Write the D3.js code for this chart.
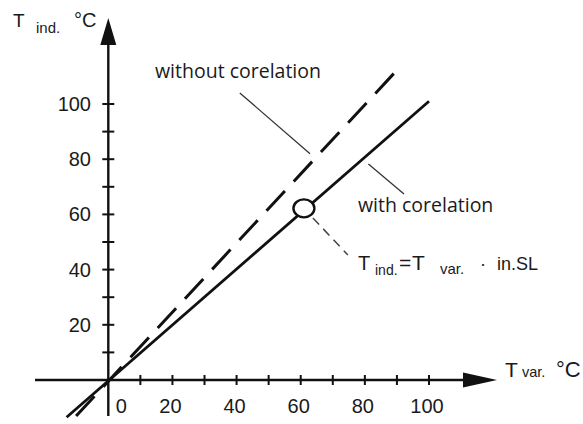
<!DOCTYPE html>
<html>
<head>
<meta charset="utf-8">
<script src="https://cdn.jsdelivr.net/npm/d3@7"></script>
<style>
  body { margin: 0; background: #fff; }
  svg { display: block; }
  .num { font-family: "Liberation Sans", Arial, sans-serif; fill: #1a1a1a; }
  .note { font-family: "Open Sans", "Noto Sans", sans-serif; fill: #1a1a1a; }
</style>
</head>
<body>
<div id="chart"></div>
<script>
'use strict';

// ticks and labels
var xTicks = [10, 20, 30, 40, 50, 60, 70, 80, 90, 100]
  , yTicks = [10, 20, 30, 40, 50, 60, 70, 80, 90, 100]
  , xTickLabels = [0, 20, 40, 60, 80, 100]
  , yTickLabels = [20, 40, 60, 80, 100];

// the two characteristic lines [T var., T ind.]
var withCorrelation = [[-13, -13.5], [100, 101]]
  , withoutCorrelation = [[89, 111], [-12, -15.5]];

// marked point on the correlated line
var markerPoint = [61, 62.2];

// annotation leader lines, in data units
var leaderWithout = [[41, 104], [62.9, 82]]
  , leaderWith = [[81.1, 78.3], [92.2, 67.4]]
  , leaderMarker = [[63.8, 58.7], [74.7, 45.3]];

var w = 583
  , h = 424;

var svg = d3.select('#chart')
  .append('svg')
    .attr('width', w)
    .attr('height', h);

var x = d3.scaleLinear().domain([0, 100]).range([108.3, 429])
  , y = d3.scaleLinear().domain([0, 100]).range([380, 104]);

var line = d3.line()
  .x(function (d) { return x(d[0]); })
  .y(function (d) { return y(d[1]); });

var ox = x(0)
  , oy = y(0);

// axes lines
var axes = svg.append('g').attr('stroke', '#111').attr('stroke-width', 2.4);
axes.append('line')
  .attr('x1', 35).attr('x2', 466)
  .attr('y1', oy).attr('y2', oy);
axes.append('line')
  .attr('x1', ox).attr('x2', ox)
  .attr('y1', 416).attr('y2', 42);

// arrow heads
svg.append('path')
  .attr('d', 'M' + (ox - 8) + ',45 L' + ox + ',18 L' + (ox + 8) + ',45 Z')
  .attr('fill', '#111');
svg.append('path')
  .attr('d', 'M463,' + (oy - 7.5) + ' L497,' + oy + ' L463,' + (oy + 7.5) + ' Z')
  .attr('fill', '#111');

// tick marks
svg.append('g').selectAll('line.xt')
  .data(xTicks)
  .enter().append('line')
    .attr('x1', function (d) { return x(d); })
    .attr('x2', function (d) { return x(d); })
    .attr('y1', oy - 5).attr('y2', oy + 5)
    .attr('stroke', '#111').attr('stroke-width', 2);
svg.append('g').selectAll('line.yt')
  .data(yTicks)
  .enter().append('line')
    .attr('y1', function (d) { return y(d); })
    .attr('y2', function (d) { return y(d); })
    .attr('x1', ox - 6).attr('x2', ox + 6)
    .attr('stroke', '#111').attr('stroke-width', 2);

// tick labels
svg.append('g').selectAll('text')
  .data(xTickLabels)
  .enter().append('text')
    .attr('class', 'num')
    .attr('x', function (d) { return d === 0 ? x(d) + 13 : x(d) - 2; })
    .attr('y', 413)
    .attr('text-anchor', 'middle')
    .style('font-size', '20px')
    .text(function (d) { return d; });
svg.append('g').selectAll('text')
  .data(yTickLabels)
  .enter().append('text')
    .attr('class', 'num')
    .attr('x', 91)
    .attr('y', function (d) { return y(d); })
    .attr('dy', '.35em')
    .attr('text-anchor', 'end')
    .style('font-size', '20px')
    .text(function (d) { return d; });

// characteristic lines
svg.append('path')
  .datum(withoutCorrelation)
  .attr('d', line)
  .attr('fill', 'none')
  .attr('stroke', '#111')
  .attr('stroke-width', 3)
  .attr('stroke-dasharray', '27,13');
svg.append('path')
  .datum(withCorrelation)
  .attr('d', line)
  .attr('fill', 'none')
  .attr('stroke', '#111')
  .attr('stroke-width', 2.8);

// leader lines
[leaderWithout, leaderWith].forEach(function (l) {
  svg.append('path')
    .datum(l)
    .attr('d', line)
    .attr('stroke', '#333')
    .attr('stroke-width', 1.3);
});
svg.append('path')
  .datum(leaderMarker)
  .attr('d', line)
  .attr('stroke', '#444')
  .attr('stroke-width', 1.5)
  .attr('stroke-dasharray', '9,6');

// marker circle
svg.append('ellipse')
  .attr('cx', x(markerPoint[0]))
  .attr('cy', y(markerPoint[1]))
  .attr('rx', 10.5).attr('ry', 9)
  .attr('fill', '#fff')
  .attr('stroke', '#111')
  .attr('stroke-width', 2.4);

// annotation texts
svg.append('text')
  .attr('class', 'note')
  .attr('x', 155).attr('y', 78)
  .style('font-size', '19.5px')
  .text('without corelation');
svg.append('text')
  .attr('class', 'note')
  .attr('x', 358).attr('y', 212)
  .style('font-size', '19.5px')
  .text('with corelation');

// formula
var f = svg.append('text')
  .attr('class', 'num')
  .attr('y', 270)
  .style('font-size', '20px');
f.append('tspan').attr('x', 358).text('T');
f.append('tspan').attr('x', 375).attr('dy', 5).style('font-size', '14px').text('ind.');
f.append('tspan').attr('x', 399).attr('dy', -5).style('font-size', '21px').text('=');
f.append('tspan').attr('x', 412).style('font-size', '21px').text('T');
f.append('tspan').attr('x', 440).attr('dy', 4).style('font-size', '15px').text('var.');
f.append('tspan').attr('x', 480).attr('dy', -4).style('font-size', '18px').text('·');
f.append('tspan').attr('x', 497).style('font-size', '18px').text('in.SL');

// axis titles
var ty = svg.append('text')
  .attr('class', 'num')
  .attr('y', 27)
  .style('font-size', '19px');
ty.append('tspan').attr('x', 13).text('T');
ty.append('tspan').attr('x', 36).attr('dy', 6).style('font-size', '15px').text('ind.');
ty.append('tspan').attr('x', 74).attr('dy', -6).style('font-size', '20px').text('°C');

var tx = svg.append('text')
  .attr('class', 'num')
  .attr('y', 377)
  .style('font-size', '21px');
tx.append('tspan').attr('x', 505).text('T');
tx.append('tspan').attr('x', 522).style('font-size', '14.5px').text('var.');
tx.append('tspan').attr('x', 556).style('font-size', '22px').text('°C');
</script>
</body>
</html>
